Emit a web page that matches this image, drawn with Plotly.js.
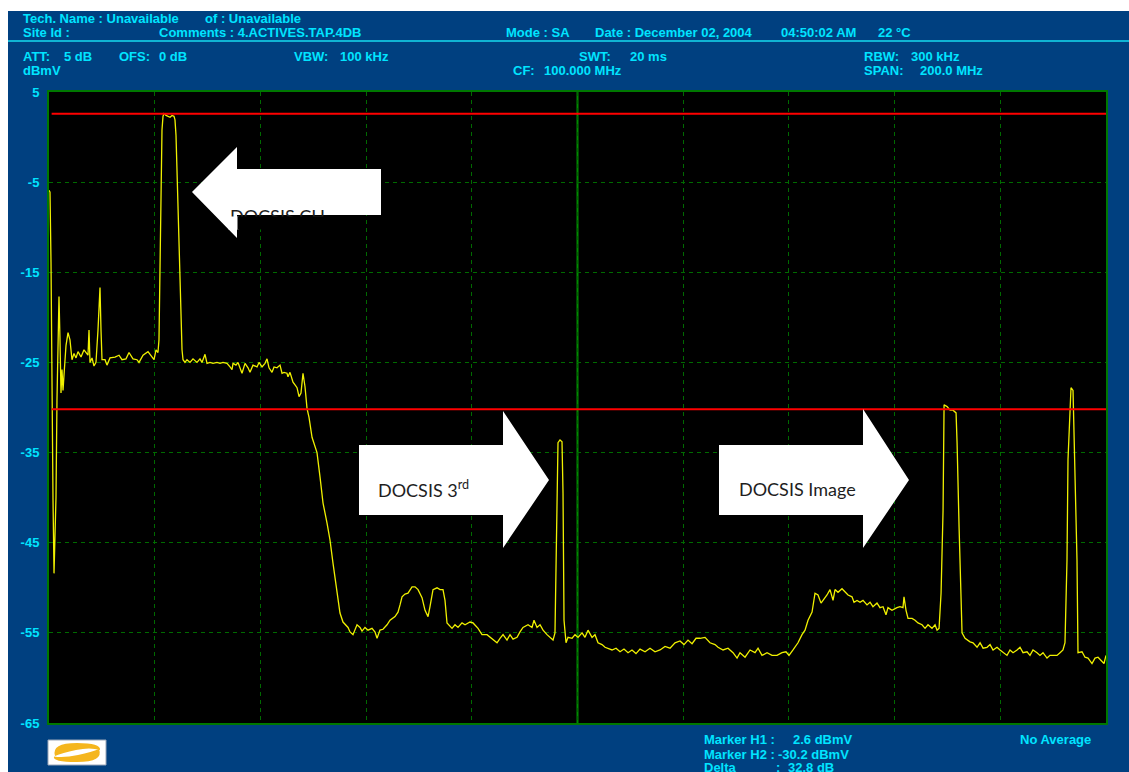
<!DOCTYPE html>
<html><head><meta charset="utf-8">
<script src="https://cdn.plot.ly/plotly-3.0.1.min.js"></script>
<style>html,body{margin:0;padding:0;background:#fff;overflow:hidden}</style>
</head><body><div id="chart" style="width:1129px;height:772px"></div>
<script>
// ---- data (frequency in MHz, level in dBmV) ----
const freqMHz = [
0,0.19,0.38,0.57,0.76,0.95,1.14,1.32,1.51,1.70,1.89,2.08,2.27,2.46,2.65,
2.84,3.22,3.60,3.97,4.35,4.73,5.11,5.49,6.06,6.62,7.38,7.57,7.76,8.14,8.51,
8.89,9.27,9.65,9.84,10.03,10.60,10.97,11.54,12.49,13.25,13.81,14.57,15.14,15.89,16.65,
17.03,17.79,18.73,19.49,19.87,20.25,20.62,20.81,21.00,21.19,21.38,21.57,21.76,22.14,22.52,
22.90,23.27,23.65,23.84,24.03,24.22,24.41,24.60,24.79,24.98,25.17,25.36,25.73,26.11,26.68,
27.25,28.00,28.57,28.95,29.52,29.90,30.46,31.03,31.79,32.36,32.92,33.68,34.25,34.63,34.82,
35.38,35.76,36.14,36.52,37.09,37.66,38.03,38.60,39.36,39.74,40.31,40.87,41.25,41.63,42.20,
42.58,43.14,43.71,44.09,44.47,45.03,45.22,45.60,46.17,46.55,46.93,47.31,47.68,48.06,48.44,
48.82,49.20,49.77,50.33,50.71,51.28,51.85,52.60,53.17,53.74,54.50,55.06,55.63,56.20,56.58,
56.96,57.52,58.28,58.85,59.23,59.79,60.36,61.12,61.69,62.07,62.63,63.20,63.96,64.53,65.47,
66.04,66.42,66.80,67.36,67.93,68.69,69.26,69.83,70.58,71.15,71.72,72.09,72.66,73.42,73.99,
74.55,74.93,75.31,76.26,76.82,77.39,78.15,78.72,79.66,80.23,81.18,81.93,82.88,83.45,84.01,
84.77,85.34,85.91,86.66,87.23,87.80,88.56,89.12,89.69,90.64,91.39,91.77,92.34,92.91,93.48,
94.23,94.80,95.37,95.74,96.12,96.31,96.69,97.07,97.26,97.45,97.83,98.21,98.97,99.53,100.10,
100.86,101.42,101.99,102.75,103.31,103.88,104.64,105.21,105.78,106.53,107.29,108.05,108.80,109.56,110.31,
111.07,111.83,112.78,113.72,114.67,115.61,116.56,117.51,118.45,119.40,120.15,120.91,121.67,122.43,123.18,
124.13,125.07,126.02,126.59,127.54,128.48,129.43,130.19,130.75,131.70,132.65,133.59,134.16,134.91,135.86,
136.81,137.75,138.70,139.45,140.02,140.78,141.72,142.48,143.05,143.62,144.38,144.94,145.51,146.08,146.46,
147.21,147.78,148.35,148.73,149.29,150.05,150.62,151.19,151.94,152.32,152.89,153.46,154.02,154.78,155.35,
155.91,156.67,157.24,157.81,158.37,158.75,159.51,160.45,161.02,161.59,161.78,162.16,162.54,163.30,163.87,
164.43,165.19,165.76,166.32,167.08,167.65,168.03,168.41,168.79,169.17,169.36,169.93,170.50,171.06,171.63,
171.82,172.20,172.76,173.33,174.27,174.84,175.60,176.17,176.74,177.49,178.06,178.63,179.38,179.95,180.52,
181.27,181.84,182.41,183.17,183.73,184.30,185.06,185.62,186.19,186.95,187.51,188.08,188.84,189.40,189.97,
190.73,191.30,191.86,192.24,192.62,192.81,193.19,193.38,193.76,194.14,194.51,194.70,195.46,196.03,196.60,
197.35,197.92,198.49,199.05,199.62,200
];
const levelDbmv = [
-5.9,-6.1,-13.9,-29.5,-40.3,-48.4,-45.3,-40.0,-29.2,-21.4,-17.7,-22.5,-28.4,-25.8,-28.1,
-26.4,-23.1,-21.7,-22.5,-24.7,-24.0,-24.5,-23.8,-24.4,-23.6,-24.2,-21.4,-25.0,-24.5,-25.4,
-25.0,-21.4,-16.7,-21.4,-24.7,-24.7,-25.3,-24.5,-24.4,-24.2,-24.7,-24.6,-23.9,-24.6,-24.7,
-25.0,-24.2,-23.8,-24.4,-24.7,-23.6,-23.9,-22.5,-15.9,-4.8,0.8,2.3,2.6,2.4,2.3,
2.2,2.4,2.3,1.9,0.2,-3.7,-7.8,-13.6,-18.4,-22.5,-23.6,-24.7,-25.0,-24.7,-25.0,
-24.6,-25.0,-24.6,-25.0,-24.1,-25.1,-25.0,-25.1,-25.0,-25.1,-25.0,-25.1,-25.5,-25.8,-25.1,
-25.3,-25.0,-25.5,-26.2,-25.1,-25.6,-26.1,-25.3,-25.5,-25.0,-25.5,-25.1,-24.6,-25.6,-26.1,
-25.5,-25.6,-25.3,-26.2,-26.1,-26.2,-26.6,-26.1,-27.2,-27.5,-27.8,-28.8,-28.4,-26.2,-27.7,
-30.1,-31.1,-33.3,-34.5,-35.0,-37.7,-40.6,-42.8,-44.7,-47.3,-50.6,-52.8,-53.8,-54.1,-54.4,
-54.9,-55.2,-54.1,-54.4,-54.8,-54.4,-54.7,-54.5,-54.9,-55.6,-54.7,-54.6,-54.1,-53.6,-53.2,
-52.7,-51.9,-51.0,-50.7,-50.6,-49.9,-49.9,-50.2,-51.1,-52.5,-53.2,-52.1,-50.2,-50.0,-50.2,
-50.2,-51.4,-53.9,-54.5,-54.1,-54.4,-53.9,-54.1,-53.8,-53.9,-54.5,-55.2,-55.2,-55.5,-55.8,
-56.1,-55.6,-55.2,-55.8,-55.2,-55.7,-55.5,-54.9,-54.4,-54.1,-54.4,-53.6,-54.4,-54.1,-54.7,
-55.2,-55.5,-55.8,-55.0,-39.5,-33.9,-33.6,-33.8,-39.5,-53.6,-56.1,-55.5,-55.6,-55.2,-55.5,
-55.0,-55.5,-54.7,-55.5,-55.2,-56.1,-56.3,-56.6,-56.7,-56.9,-56.7,-57.1,-56.8,-57.2,-56.9,
-57.3,-56.8,-57.1,-56.7,-57.1,-56.9,-56.5,-56.7,-56.1,-55.9,-56.3,-55.8,-56.2,-55.6,-55.6,
-55.5,-56.1,-56.3,-56.6,-56.9,-56.7,-57.2,-57.8,-57.2,-57.7,-56.9,-57.2,-56.7,-57.5,-57.2,
-57.5,-57.5,-57.2,-57.1,-57.5,-56.9,-56.1,-55.2,-54.7,-53.6,-52.7,-50.6,-50.8,-51.7,-51.4,
-50.8,-50.2,-51.4,-50.2,-50.5,-50.1,-50.5,-50.8,-51.0,-51.6,-51.4,-51.6,-51.4,-51.9,-51.6,
-52.1,-51.7,-52.2,-52.1,-53.0,-52.2,-52.5,-52.2,-52.1,-52.2,-51.0,-52.5,-53.4,-53.4,-53.6,
-53.9,-54.1,-54.5,-54.1,-54.5,-54.1,-54.7,-54.5,-50.6,-41.4,-29.7,-29.9,-30.3,-30.3,-30.6,
-33.9,-43.3,-55.0,-55.6,-56.0,-56.1,-56.6,-56.1,-56.7,-56.6,-56.3,-56.9,-56.6,-56.9,-57.2,
-57.5,-56.9,-57.2,-56.9,-56.6,-57.2,-57.1,-57.5,-56.9,-57.2,-57.5,-57.2,-57.8,-57.5,-57.5,
-57.5,-57.2,-56.9,-56.1,-46.9,-35.8,-29.5,-27.8,-28.1,-37.7,-46.9,-57.2,-57.1,-57.7,-57.8,
-58.4,-57.8,-57.7,-58.0,-58.4,-57.5
];
const yTickVals = [5,-5,-15,-25,-35,-45,-55,-65];
const xGridVals = [0,20,40,60,80,100,120,140,160,180,200];
const centerFreq = 100;
const markerH1 = 2.6;
const markerH2 = -30.2;
const arrowLabels = ['DOCSIS CH', 'DOCSIS 3<sup>rd</sup>', 'DOCSIS Image'];

// ---- layout helpers (pixel -> paper) ----
const L = 49, R = 1106, T = 92, B = 723;
const px = x => (x - L) / (R - L);
const py = y => (B - y) / (B - T);
const pth = s => s.replace(/(-?[\d.]+),(-?[\d.]+)/g, (m, a, b) => px(+a).toFixed(5) + ',' + py(+b).toFixed(5));

const CYAN = '#00e4ff';
const BLUE = '#004080';
const hdrFont = {family: "'Liberation Sans', Arial, sans-serif", size: 13, color: CYAN, weight: 700};

const headerItems = [
  ['Tech. Name : Unavailable', 22, 18], ['of : Unavailable', 204, 18],
  ['Site Id :', 22, 33], ['Comments : 4.ACTIVES.TAP.4DB', 158, 33], ['Mode : SA', 505, 33],
  ['Date : December 02, 2004', 594, 33], ['04:50:02 AM', 780, 33], ['22 °C', 877, 33],
  ['ATT:', 22, 56], ['5 dB', 63, 56], ['OFS:', 118, 56], ['0 dB', 158, 56],
  ['VBW:', 293, 56], ['100 kHz', 339, 56], ['SWT:', 578, 56], ['20 ms', 629, 56],
  ['RBW:', 863, 56], ['300 kHz', 910, 56],
  ['dBmV', 22, 70], ['CF:', 512, 70], ['100.000 MHz', 543, 70], ['SPAN:', 863, 70], ['200.0 MHz', 919, 70],
  ['Marker H1 :', 703, 740], [markerH1.toFixed(1) + ' dBmV', 792, 740],
  ['Marker H2 :', 703, 754], [markerH2.toFixed(1) + ' dBmV', 777, 754],
  ['Delta', 703, 767], [':', 775, 767], [(markerH1 - markerH2).toFixed(1) + ' dB', 787, 767],
  ['No Average', 1019, 740]
];

const annotations = headerItems.map(([t, x, y]) => ({
  text: t, xref: 'paper', yref: 'paper', x: px(x), y: py(y), xanchor: 'left', yanchor: 'middle',
  showarrow: false, font: hdrFont, borderpad: 0
}));

const arrowFont = {family: "Lato, 'Open Sans', sans-serif", size: 18, color: '#1e1e1e'};
const cover = (x0, x1, color) => ({
  text: '█', xref: 'paper', yref: 'paper', x: px(x0), y: py(215.5), xanchor: 'left', yanchor: 'top',
  showarrow: false, width: x1 - x0, height: 12, bgcolor: color, borderpad: 0, font: {size: 8, color: color}
});
annotations.push(
  {text: arrowLabels[0], xref: 'paper', yref: 'paper', x: px(229), y: py(216), xanchor: 'left', yanchor: 'middle', showarrow: false, font: arrowFont, borderpad: 0},
  cover(228, 237, '#fff'),
  cover(237, 350, '#000'),
  {text: arrowLabels[1], xref: 'paper', yref: 'paper', x: px(377), y: py(489), xanchor: 'left', yanchor: 'middle', showarrow: false, font: arrowFont, borderpad: 0},
  {text: arrowLabels[2], xref: 'paper', yref: 'paper', x: px(738), y: py(489), xanchor: 'left', yanchor: 'middle', showarrow: false, font: arrowFont, borderpad: 0}
);

const ORANGE = '#f5b61e';
const shapes = [
  // white outer margins
  {type: 'rect', xref: 'paper', yref: 'paper', x0: px(0), x1: px(8), y0: py(772), y1: py(0), fillcolor: '#fff', line: {width: 0}, layer: 'below'},
  {type: 'rect', xref: 'paper', yref: 'paper', x0: px(0), x1: px(1129), y0: py(11), y1: py(0), fillcolor: '#fff', line: {width: 0}, layer: 'below'},
  // header separator
  {type: 'line', xref: 'paper', yref: 'paper', x0: px(8), x1: px(1129), y0: py(41), y1: py(41), line: {color: '#10b4d4', width: 2}},
  // centre frequency line
  {type: 'line', xref: 'x', yref: 'paper', x0: centerFreq, x1: centerFreq, y0: 0, y1: 1, line: {color: '#008a00', width: 2}, layer: 'below'},
  // marker lines
  {type: 'line', xref: 'x', yref: 'y', x0: 0.5, x1: 200, y0: markerH1, y1: markerH1, line: {color: '#ff0000', width: 2}},
  {type: 'line', xref: 'x', yref: 'y', x0: 0.5, x1: 200, y0: markerH2, y1: markerH2, line: {color: '#ff0000', width: 2}},
  // arrows
  {type: 'path', xref: 'paper', yref: 'paper', path: pth('M 192,192 L 237,147 L 237,169 L 381,169 L 381,215 L 237,215 L 237,238 Z'), fillcolor: '#fff', line: {width: 0}},
  {type: 'path', xref: 'paper', yref: 'paper', path: pth('M 359,445 L 503,445 L 503,411 L 549,480 L 503,548 L 503,515 L 359,515 Z'), fillcolor: '#fff', line: {width: 0}},
  {type: 'path', xref: 'paper', yref: 'paper', path: pth('M 719,445 L 863,445 L 863,409 L 909,480 L 863,548 L 863,515 L 719,515 Z'), fillcolor: '#fff', line: {width: 0}},
  // logo
  {type: 'rect', xref: 'paper', yref: 'paper', x0: px(48), x1: px(106), y0: py(765), y1: py(740), fillcolor: '#fff', line: {color: '#9aa6b8', width: 1}},
  {type: 'path', xref: 'paper', yref: 'paper', path: pth('M 55,756 Q 51,743 77,743 Q 101,743 100,750 Q 90,747 76,750 Q 62,753 55,756 Z'), fillcolor: ORANGE, line: {width: 0}},
  {type: 'path', xref: 'paper', yref: 'paper', path: pth('M 99,749 Q 104,762 77,762 Q 52,762 54,756.5 Q 64,758 78,755 Q 92,752 99,749 Z'), fillcolor: ORANGE, line: {width: 0}}
];

const trace = {
  x: freqMHz, y: levelDbmv, type: 'scatter', mode: 'lines',
  line: {color: '#f0f000', width: 1.3}, hoverinfo: 'skip'
};

const gridColor = '#006a00';
const layout = {
  width: 1129, height: 772,
  margin: {l: L, r: 1129 - R, t: T, b: 772 - B, pad: 0},
  paper_bgcolor: BLUE, plot_bgcolor: '#000',
  showlegend: false,
  xaxis: {
    range: [0, 200], tickvals: xGridVals, showticklabels: false, ticks: '',
    showgrid: true, gridcolor: gridColor, griddash: '4px,4px', gridwidth: 1,
    zeroline: false, showline: true, mirror: true, linecolor: '#007800', linewidth: 2, fixedrange: true
  },
  yaxis: {
    range: [-65, 5], tickvals: yTickVals, ticktext: yTickVals.map(String), ticks: '',
    ticklabelstandoff: 5,
    tickfont: {family: "'Liberation Sans', Arial, sans-serif", size: 13, color: CYAN, weight: 700},
    showgrid: true, gridcolor: gridColor, griddash: '4px,4px', gridwidth: 1,
    zeroline: false, showline: true, mirror: true, linecolor: '#007800', linewidth: 2, fixedrange: true
  },
  shapes: shapes,
  annotations: annotations
};

Plotly.newPlot('chart', [trace], layout, {displayModeBar: false, staticPlot: true});
</script>
</body></html>
